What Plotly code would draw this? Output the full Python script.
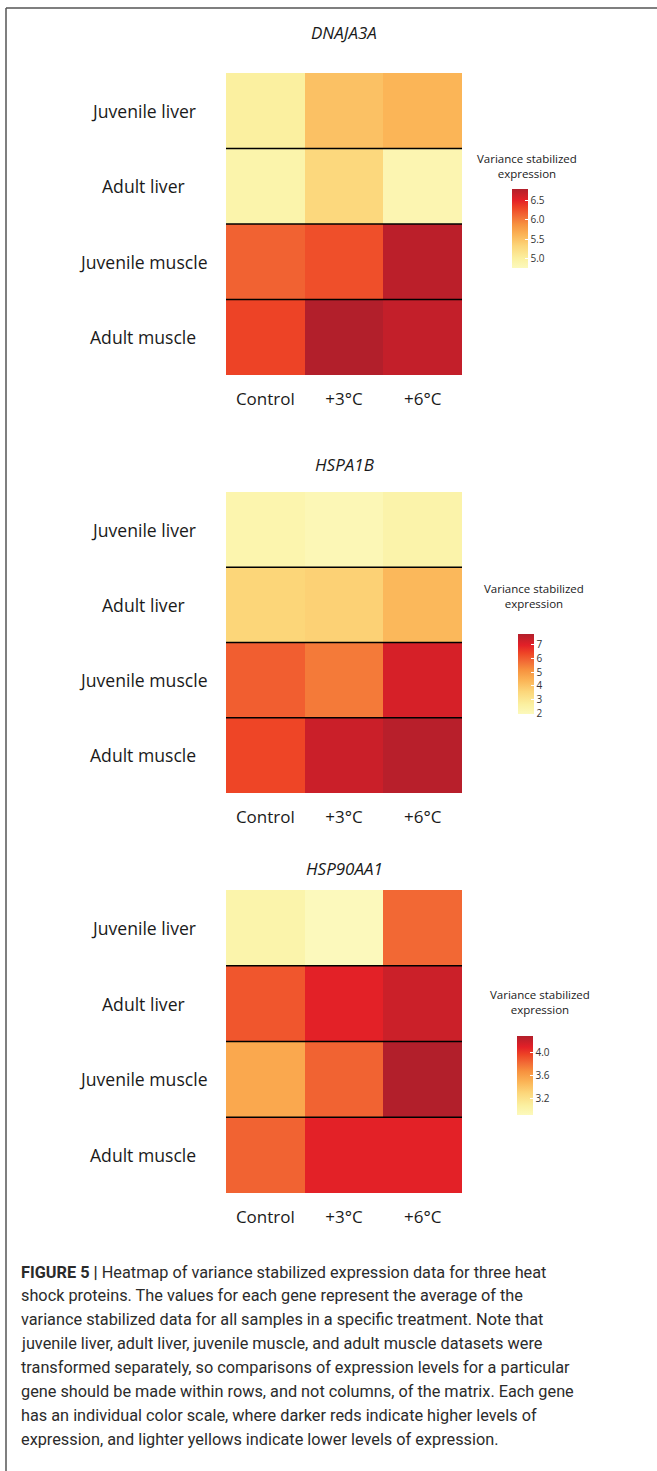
import plotly.graph_objects as go

W, H = 657, 1471

# ---------------- data ----------------
genes = ["DNAJA3A", "HSPA1B", "HSP90AA1"]
rows = ["Juvenile liver", "Adult liver", "Juvenile muscle", "Adult muscle"]
treatments = ["Control", "+3°C", "+6°C"]

dnaja3a = [
    [5.00, 5.50, 5.60],
    [4.90, 5.30, 4.85],
    [6.15, 6.25, 6.75],
    [6.32, 6.80, 6.70],
]
hspa1b = [
    [2.30, 2.10, 2.40],
    [3.60, 3.70, 4.30],
    [6.00, 5.55, 7.20],
    [6.40, 7.40, 7.70],
]
hsp90aa1 = [
    [3.00, 2.90, 3.83],
    [3.90, 4.10, 4.20],
    [3.55, 3.85, 4.30],
    [3.85, 4.10, 4.10],
]
values = [dnaja3a, hspa1b, hsp90aa1]

z_ranges = [(4.75, 6.80), (1.95, 7.80), (2.90, 4.30)]
cb_dticks = [0.5, 1, 0.4]
cb_formats = [".1f", "d", ".1f"]

caption_lines = [
    "<b>FIGURE 5 |</b> Heatmap of variance stabilized expression data for three heat",
    "shock proteins. The values for each gene represent the average of the",
    "variance stabilized data for all samples in a specific treatment. Note that",
    "juvenile liver, adult liver, juvenile muscle, and adult muscle datasets were",
    "transformed separately, so comparisons of expression levels for a particular",
    "gene should be made within rows, and not columns, of the matrix. Each gene",
    "has an individual color scale, where darker reds indicate higher levels of",
    "expression, and lighter yellows indicate lower levels of expression.",
]

# ---------------- style / layout ----------------
colorscale = [
    [0.00, "#FCF9BC"],
    [0.12, "#FBF0A0"],
    [0.28, "#FCD67A"],
    [0.42, "#FBB456"],
    [0.55, "#F7923F"],
    [0.66, "#F26A35"],
    [0.76, "#EE4526"],
    [0.86, "#E32027"],
    [1.00, "#B21F2B"],
]

def py(px):
    return 1 - px / H

def pxx(px):
    return px / W

panel_x = (226, 462)
panel_y = [(73, 375), (492, 793), (890, 1193)]
title_y = [33, 465, 868]
cb_x = [512, 518, 517]
cb_top = [189, 634, 1036]
cb_len = [79, 80, 79]
cb_title_x = [527, 534, 540]
cb_title_y = [157, 587, 993]

LABEL_FONT = "'Open Sans', Lato, sans-serif"
TXT = "#1a1a1a"

fig = go.Figure()
annotations = []
shapes = []

for i, gene in enumerate(genes):
    ax = "" if i == 0 else str(i + 1)
    zmin, zmax = z_ranges[i]
    fig.add_trace(go.Heatmap(
        z=values[i], x=treatments, y=rows,
        xaxis="x" + ax, yaxis="y" + ax,
        zmin=zmin, zmax=zmax, colorscale=colorscale,
        hoverinfo="skip",
        colorbar=dict(
            x=pxx(cb_x[i]), xanchor="left", xpad=0,
            y=py(cb_top[i]), yanchor="top", ypad=0,
            lenmode="pixels", len=cb_len[i],
            thickness=16, outlinewidth=0,
            ticks="inside", ticklen=3, tickcolor="white", tickwidth=1,
            dtick=cb_dticks[i], tickformat=cb_formats[i],
            tickfont=dict(family=LABEL_FONT, size=10, color="#333"),
        ),
    ))
    y0, y1 = panel_y[i]
    fig.update_layout({
        "xaxis" + ax: dict(
            domain=[pxx(panel_x[0]), pxx(panel_x[1])],
            anchor="y" + ax, showgrid=False, zeroline=False, showline=False,
            ticks="", tickfont=dict(family=LABEL_FONT, size=17, color=TXT),
            ticklabelstandoff=12, fixedrange=True,
        ),
        "yaxis" + ax: dict(
            domain=[py(y1), py(y0)],
            anchor="x" + ax, showgrid=False, zeroline=False, showline=False,
            showticklabels=False, ticks="", autorange="reversed", fixedrange=True,
        ),
    })
    # gene title
    annotations.append(dict(
        text="<i>%s</i>" % gene, xref="paper", yref="paper",
        x=pxx((panel_x[0] + panel_x[1]) / 2), y=py(title_y[i]),
        xanchor="center", yanchor="middle", showarrow=False,
        font=dict(family=LABEL_FONT, size=17, color=TXT),
    ))
    # row labels, centred in the left margin
    for r in rows:
        annotations.append(dict(
            text=r, xref="paper", yref="y" + ax, x=pxx(143), y=r,
            xanchor="center", yanchor="middle", showarrow=False,
            font=dict(family=LABEL_FONT, size=17.6, color=TXT),
        ))
    # row separators
    for k in range(1, len(rows)):
        shapes.append(dict(
            type="line", xref="x" + ax + " domain", yref="y" + ax,
            x0=0, x1=1, y0=k - 0.5, y1=k - 0.5,
            line=dict(color="black", width=1.6),
        ))
    # colour bar title
    annotations.append(dict(
        text="Variance stabilized<br>expression", xref="paper", yref="paper",
        x=pxx(cb_title_x[i]), y=py(cb_title_y[i] - 8),
        xanchor="center", yanchor="top", showarrow=False,
        font=dict(family=LABEL_FONT, size=11.5, color=TXT),
    ))

# caption
cap_y0, cap_dy = 1272, 23.9
for j, line in enumerate(caption_lines):
    annotations.append(dict(
        text=line, xref="paper", yref="paper",
        x=pxx(19), y=py(cap_y0 + j * cap_dy),
        xanchor="left", yanchor="middle", showarrow=False,
        font=dict(family="Roboto, 'Liberation Sans', sans-serif", size=16.3, color="#2b2b2b"),
    ))

# frame (top and left edges)
shapes.append(dict(type="line", xref="paper", yref="paper",
                   x0=pxx(6), x1=1.01, y0=py(8), y1=py(8),
                   line=dict(color="#555", width=1.5)))
shapes.append(dict(type="line", xref="paper", yref="paper",
                   x0=pxx(6), x1=pxx(6), y0=py(8), y1=-0.01,
                   line=dict(color="#555", width=1.5)))

fig.update_layout(
    width=W, height=H,
    margin=dict(l=0, r=0, t=0, b=0),
    paper_bgcolor="white", plot_bgcolor="white",
    annotations=annotations, shapes=shapes,
    showlegend=False,
)

fig.write_html("out.html", config={"displayModeBar": False},
               post_script="document.body.style.margin='0';document.body.style.overflow='hidden';")
